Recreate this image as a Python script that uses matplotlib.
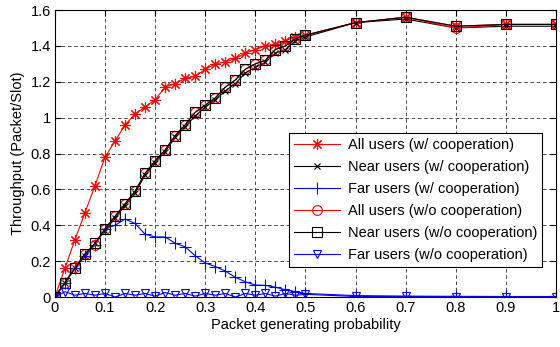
import numpy as np
import matplotlib
matplotlib.use("Agg")
import matplotlib.pyplot as plt
from matplotlib.ticker import FormatStrFormatter

plt.rcParams['font.family'] = ['Liberation Sans', 'DejaVu Sans']

# packet generating probability (0..0.5 step 0.02, then 0.1 steps)
p = [0.00, 0.02, 0.04, 0.06, 0.08, 0.10, 0.12, 0.14, 0.16, 0.18,
     0.20, 0.22, 0.24, 0.26, 0.28, 0.30, 0.32, 0.34, 0.36, 0.38,
     0.40, 0.42, 0.44, 0.46, 0.48, 0.50, 0.6, 0.7, 0.8, 0.9, 1.0]

all_coop = [0, 0.16, 0.32, 0.47, 0.62, 0.78, 0.87, 0.96, 1.02, 1.06,
            1.10, 1.17, 1.19, 1.22, 1.23, 1.27, 1.30, 1.31, 1.33, 1.36,
            1.38, 1.40, 1.41, 1.43, 1.45, 1.46, 1.53, 1.56, 1.51, 1.52, 1.52]
near_coop = [0, 0.08, 0.16, 0.23, 0.30, 0.37, 0.44, 0.51, 0.58, 0.68,
             0.75, 0.81, 0.89, 0.95, 1.01, 1.06, 1.10, 1.15, 1.19, 1.25,
             1.28, 1.31, 1.36, 1.38, 1.43, 1.45, 1.53, 1.55, 1.50, 1.51, 1.51]
far_coop = [0, 0.08, 0.16, 0.23, 0.29, 0.38, 0.40, 0.435, 0.41, 0.35,
            0.335, 0.335, 0.30, 0.28, 0.23, 0.19, 0.17, 0.145, 0.11, 0.085,
            0.067, 0.065, 0.055, 0.04, 0.03, 0.02, 0.008, 0.005, 0.004, 0.003, 0.003]
all_nocoop = [0, 0.08, 0.17, 0.24, 0.29, 0.38, 0.45, 0.52, 0.59, 0.69,
              0.76, 0.82, 0.90, 0.96, 1.03, 1.07, 1.11, 1.17, 1.21, 1.27,
              1.30, 1.32, 1.38, 1.40, 1.44, 1.46, 1.53, 1.56, 1.50, 1.52, 1.52]
near_nocoop = [0, 0.08, 0.16, 0.24, 0.30, 0.38, 0.45, 0.52, 0.59, 0.69,
               0.76, 0.82, 0.90, 0.96, 1.03, 1.07, 1.11, 1.17, 1.21, 1.27,
               1.30, 1.32, 1.38, 1.40, 1.44, 1.46, 1.53, 1.56, 1.51, 1.52, 1.52]
far_nocoop = [0, 0.03, 0.01, 0.02, 0.01, 0.02, 0.0, 0.02, 0.01, 0.02,
              0.005, 0.025, 0.01, 0.02, 0.005, 0.02, 0.01, 0.02, 0.0, 0.02,
              0.01, 0.02, 0.005, 0.02, 0.01, 0.015, 0.003, 0.003, 0.002, 0.002, 0.002]

asterisk = (8, 2, 0)
series = [
    (all_coop, 'All users (w/ cooperation)', 'r', asterisk, 8),
    (near_coop, 'Near users (w/ cooperation)', 'k', 'x', 4),
    (far_coop, 'Far users (w/ cooperation)', 'b', '+', 8),
    (all_nocoop, 'All users (w/o cooperation)', 'r', 'o', 7),
    (near_nocoop, 'Near users (w/o cooperation)', 'k', 's', 7),
    (far_nocoop, 'Far users (w/o cooperation)', 'b', 'v', 6),
]

fig = plt.figure(figsize=(5.6, 3.47), dpi=100)
ax = fig.add_axes([0.098, 0.144, 0.895, 0.827])

for vals, label, col, mk, ms in series:
    ax.plot(p, vals, color=col, marker=mk, markersize=ms, linewidth=0.8,
            markerfacecolor='none', markeredgecolor=col, markeredgewidth=0.8,
            label=label)

ax.set_xlim(0, 1)
ax.set_ylim(0, 1.6)
ax.set_xticks(np.arange(0, 1.01, 0.1))
ax.set_yticks(np.arange(0, 1.61, 0.2))
ax.xaxis.set_major_formatter(FormatStrFormatter('%g'))
ax.yaxis.set_major_formatter(FormatStrFormatter('%g'))
ax.tick_params(direction='in', top=True, right=True, length=4, labelsize=10.5, pad=3)
ax.grid(True, color='k', linestyle=(0, (5, 4)), linewidth=0.5)
for s in ax.spines.values():
    s.set_linewidth(0.8)

ax.set_xlabel('Packet generating probability', fontsize=10.5, labelpad=2)
ax.set_ylabel('Throughput (Packet/Slot)', fontsize=10.5, labelpad=4)

leg = ax.legend(loc='lower right', bbox_to_anchor=(0.972, 0.105), borderaxespad=0,
                fontsize=10.5, handlelength=3.2, labelspacing=0.55, fancybox=False,
                framealpha=1, edgecolor='k', borderpad=0.35, handletextpad=0.5)
leg.get_frame().set_linewidth(0.8)

fig.savefig('out.png', dpi=100)
